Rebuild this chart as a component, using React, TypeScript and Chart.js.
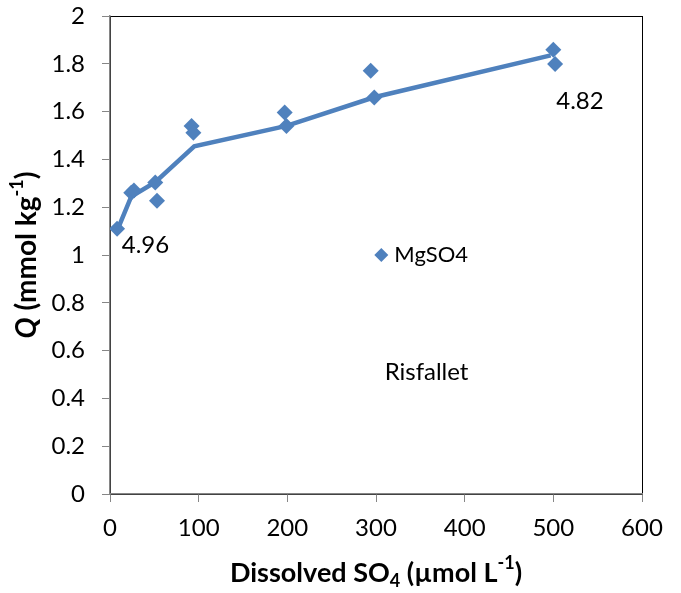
import React, { useEffect, useRef } from 'react';
import { Chart, registerables } from 'chart.js';

Chart.register(...registerables);

const BLUE = '#4F81BD';
const FONT = 'Lato';

// measured samples: dissolved SO4 (µmol/L) vs Q (mmol/kg)
const sampleSO4 = [8, 24, 27, 51, 53, 92, 94, 197, 199, 294, 298, 500, 502];
const sampleQ = [1.11, 1.26, 1.27, 1.303, 1.227, 1.54, 1.512, 1.596, 1.54, 1.771, 1.659, 1.859, 1.799];

// fitted curve
const fitSO4 = [9, 24, 51, 95, 199, 298, 497];
const fitQ = [1.11, 1.245, 1.305, 1.455, 1.54, 1.66, 1.835];

const xTickValues = [0, 100, 200, 300, 400, 500, 600];
const yTickValues = [0, 0.2, 0.4, 0.6, 0.8, 1, 1.2, 1.4, 1.6, 1.8, 2];

// text annotations placed in data coordinates
const noteText = ['4.96', '4.82', 'Risfallet'];
const noteSO4 = [40, 530, 357];
const noteQ = [1.04, 1.645, 0.51];

const legendLabel = 'MgSO4';
const legendSO4 = 306;
const legendQ = 1.0;

type Seg = { t: string; sub?: boolean; sup?: boolean; italic?: boolean };

const xTitle: Seg[] = [
  { t: 'Dissolved SO' },
  { t: '4', sub: true },
  { t: ' (µmol L' },
  { t: '-1', sup: true },
  { t: ')' },
];
const yTitle: Seg[] = [
  { t: 'Q', italic: true },
  { t: ' (mmol kg' },
  { t: '-1', sup: true },
  { t: ')' },
];

function drawRich(ctx: CanvasRenderingContext2D, segs: Seg[], cx: number, cy: number, size: number, bold: boolean) {
  const fontFor = (s: Seg) =>
    `${s.italic ? 'italic ' : ''}${bold ? 'bold ' : ''}${s.sub || s.sup ? Math.round(size * 0.65) : size}px ${FONT}`;
  let total = 0;
  const widths = segs.map(s => {
    ctx.font = fontFor(s);
    const w = ctx.measureText(s.t).width;
    total += w;
    return w;
  });
  let x = cx - total / 2;
  ctx.textAlign = 'left';
  ctx.textBaseline = 'middle';
  segs.forEach((s, i) => {
    ctx.font = fontFor(s);
    const dy = s.sub ? size * 0.3 : s.sup ? -size * 0.35 : 0;
    ctx.fillText(s.t, x, cy + dy);
    x += widths[i];
  });
}

const decorPlugin = {
  id: 'decor',
  beforeDraw(chart: any) {
    const { ctx, chartArea } = chart;
    ctx.save();
    ctx.strokeStyle = '#000';
    ctx.lineWidth = 1;
    ctx.strokeRect(chartArea.left + 0.5, chartArea.top + 0.5, chartArea.right - chartArea.left, chartArea.bottom - chartArea.top);
    ctx.restore();
  },
  afterDraw(chart: any) {
    const { ctx, chartArea, scales } = chart;
    const xs = scales.x;
    const ys = scales.y;
    ctx.save();
    ctx.fillStyle = '#000';

    // annotations
    ctx.font = `24px ${FONT}`;
    ctx.textAlign = 'center';
    ctx.textBaseline = 'middle';
    noteText.forEach((t, i) => {
      ctx.fillText(t, xs.getPixelForValue(noteSO4[i]), ys.getPixelForValue(noteQ[i]));
    });

    // legend
    const lx = xs.getPixelForValue(legendSO4);
    const ly = ys.getPixelForValue(legendQ);
    ctx.fillStyle = BLUE;
    ctx.beginPath();
    ctx.moveTo(lx - 7, ly);
    ctx.lineTo(lx, ly - 7);
    ctx.lineTo(lx + 7, ly);
    ctx.lineTo(lx, ly + 7);
    ctx.closePath();
    ctx.fill();
    ctx.fillStyle = '#000';
    ctx.textAlign = 'left';
    ctx.font = `22px ${FONT}`;
    ctx.fillText(legendLabel, lx + 13, ly);

    // axis titles
    const midX = (chartArea.left + chartArea.right) / 2;
    const midY = (chartArea.top + chartArea.bottom) / 2;
    drawRich(ctx, xTitle, midX, 573, 27, true);
    ctx.translate(27, midY);
    ctx.rotate(-Math.PI / 2);
    drawRich(ctx, yTitle, 0, 0, 28, true);
    ctx.restore();
  },
};

export default function App() {
  const canvasRef = useRef<HTMLCanvasElement>(null);
  const chartRef = useRef<Chart | null>(null);

  useEffect(() => {
    if (!canvasRef.current) return;
    if (chartRef.current) chartRef.current.destroy();

    chartRef.current = new Chart(canvasRef.current, {
      type: 'scatter',
      data: {
        datasets: [
          {
            type: 'line',
            label: 'fit',
            data: fitSO4.map((x, i) => ({ x, y: fitQ[i] })),
            borderColor: BLUE,
            borderWidth: 4.5,
            pointRadius: 0,
            tension: 0,
            fill: false,
            order: 2,
          },
          {
            type: 'scatter',
            label: legendLabel,
            data: sampleSO4.map((x, i) => ({ x, y: sampleQ[i] })),
            backgroundColor: BLUE,
            borderColor: BLUE,
            borderWidth: 0,
            pointStyle: 'rectRot',
            pointRadius: 8,
            order: 1,
          },
        ],
      },
      options: {
        responsive: true,
        maintainAspectRatio: false,
        animation: false,
        layout: { padding: { top: 16, right: 39, left: 0, bottom: 0 } },
        plugins: {
          legend: { display: false },
          tooltip: { enabled: false },
        },
        scales: {
          x: {
            type: 'linear',
            min: 0,
            max: 600,
            afterBuildTicks: (s: any) => {
              s.ticks = xTickValues.map(v => ({ value: v }));
            },
            afterFit: (s: any) => {
              s.height = 99;
            },
            ticks: {
              color: '#000',
              font: { family: FONT, size: 24 },
              padding: 12,
              maxRotation: 0,
              callback: (v: any) => String(v),
            },
            grid: { drawOnChartArea: false, drawTicks: true, tickLength: 8, color: '#868686' },
            border: { color: '#868686', width: 1.5 },
          },
          y: {
            type: 'linear',
            min: 0,
            max: 2,
            afterBuildTicks: (s: any) => {
              s.ticks = yTickValues.map(v => ({ value: v }));
            },
            afterFit: (s: any) => {
              s.width = 110;
              s.paddingTop = 0;
              s.paddingBottom = 0;
            },
            ticks: {
              color: '#000',
              font: { family: FONT, size: 24 },
              padding: 17,
              callback: (v: any) => String(Math.round(v * 10) / 10),
            },
            grid: { drawOnChartArea: false, drawTicks: true, tickLength: 8, color: '#868686' },
            border: { color: '#868686', width: 1.5 },
          },
        },
      },
      plugins: [decorPlugin],
    });

    return () => {
      if (chartRef.current) {
        chartRef.current.destroy();
        chartRef.current = null;
      }
    };
  }, []);

  return (
    <div style={{ position: 'absolute', left: 0, top: 0, width: 681, height: 593, background: '#fff' }}>
      <canvas ref={canvasRef}></canvas>
    </div>
  );
}
